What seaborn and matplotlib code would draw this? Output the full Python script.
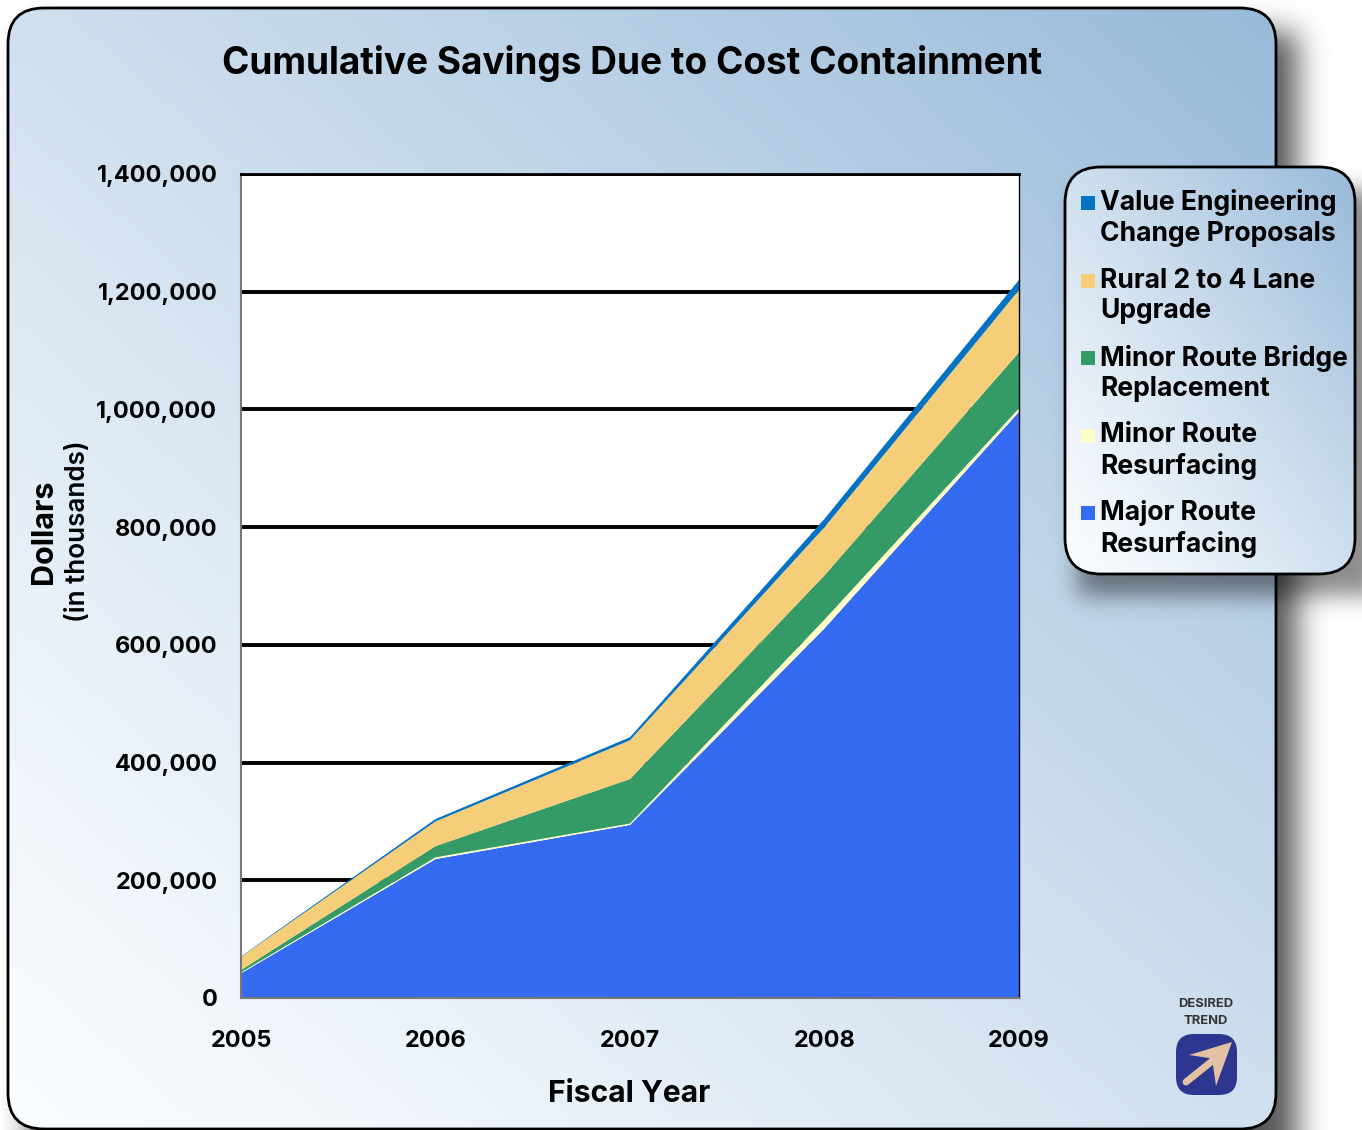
import numpy as np
import pandas as pd
import matplotlib
matplotlib.use("Agg")
import matplotlib.pyplot as plt
from matplotlib.patches import FancyBboxPatch, Rectangle, Polygon
import seaborn as sns
import seaborn.objects as so

W, H = 1362, 1130

years = [2005, 2006, 2007, 2008, 2009]
major_route = [42000, 236000, 294000, 628000, 996000]
minor_resurf = [1500, 3000, 2500, 15000, 6000]
minor_bridge = [4000, 19000, 75500, 75000, 95000]
rural_lane = [22500, 42000, 66000, 82000, 106000]
value_eng = [500, 4000, 5000, 14000, 17000]

series_names = ["Major Route\nResurfacing", "Minor Route\nResurfacing",
                "Minor Route Bridge\nReplacement", "Rural 2 to 4 Lane\nUpgrade",
                "Value Engineering\nChange Proposals"]
series_values = [major_route, minor_resurf, minor_bridge, rural_lane, value_eng]
series_colors = ["#346bf2", "#ffffc8", "#349b67", "#f6ce79", "#0573c3"]

y_ticks = [0, 200000, 400000, 600000, 800000, 1000000, 1200000, 1400000]
y_labels = ["0", "200,000", "400,000", "600,000", "800,000", "1,000,000", "1,200,000", "1,400,000"]

df = pd.DataFrame([
    {"year": y, "value": v, "series": name}
    for name, vals in zip(series_names, series_values)
    for y, v in zip(years, vals)
])

sns.set_theme(style="white")
plt.rcParams["font.family"] = ["Inter", "Lato", "DejaVu Sans"]
plt.rcParams["font.weight"] = "bold"


def px(size):
    return size * 72 / 100


def gradient(n_x, n_y):
    # white in the lower left corner, blue in the upper right
    xx, yy = np.meshgrid(np.linspace(0, 1, n_x), np.linspace(0, 1, n_y))
    t = (((xx + 1 - yy) / 2) ** 1.2)[..., None]
    low = np.array([0.98, 0.99, 1.0])
    high = np.array([0.60, 0.73, 0.85])
    return low + (high - low) * t


def blur(a, sigma):
    k = np.exp(-0.5 * (np.arange(-3 * sigma, 3 * sigma + 1) / sigma) ** 2)
    k = k / k.sum()
    a = np.apply_along_axis(lambda r: np.convolve(r, k, mode="same"), 0, a)
    return np.apply_along_axis(lambda r: np.convolve(r, k, mode="same"), 1, a)


def shadow(ax, x0, y0, x1, y1, sigma, strength):
    a = np.zeros((H + 200, W + 200))
    a[y0 + 100:y1 + 100, x0 + 100:x1 + 100] = 1
    a = blur(a, sigma)[100:-100, 100:-100]
    rgba = np.zeros((H, W, 4))
    rgba[..., 3] = a * strength
    ax.imshow(rgba, extent=(0, W, H, 0), aspect="auto", interpolation="bilinear")


def rounded_gradient(ax, x, y, w, h, r, lw):
    box = FancyBboxPatch((x + r, y + r), w - 2 * r, h - 2 * r,
                         boxstyle=f"round,pad={r},rounding_size={r}",
                         fc="none", ec="black", lw=lw, zorder=3)
    ax.add_patch(box)
    im = ax.imshow(gradient(64, 64), origin="upper", extent=(x, x + w, y + h, y),
                   aspect="auto", interpolation="bilinear", zorder=2)
    im.set_clip_path(box)


fig = plt.figure(figsize=(W / 100, H / 100), dpi=100, facecolor="white")

# background panel
bg = fig.add_axes([0, 0, 1, 1], zorder=0)
bg.axis("off")
shadow(bg, 30, 32, 1297, 1200, 15, 0.66)
rounded_gradient(bg, 8, 8, 1268, 1121, 36, 2.0)
bg.set_xlim(0, W)
bg.set_ylim(H, 0)

# main chart
ax = fig.add_axes([241 / W, 1 - 998 / H, 778 / W, 824 / H], zorder=1)
ax.set_facecolor("white")
ax.set_axisbelow(True)
(
    so.Plot(df, x="year", y="value", color="series")
    .add(so.Area(alpha=1, edgewidth=0.3), so.Stack(), legend=False)
    .scale(color=so.Nominal(series_colors, order=series_names))
    .on(ax)
    .plot()
)
ax.set_xlim(years[0], years[-1])
ax.set_ylim(0, 1400000)
ax.set_xticks(years)
ax.set_xticklabels([str(y) for y in years], fontsize=px(23.5), fontweight="bold", color="black")
ax.set_yticks(y_ticks)
ax.set_yticklabels(y_labels, fontsize=px(23.5), fontweight="bold", color="black")
ax.tick_params(axis="x", length=0, pad=23)
ax.tick_params(axis="y", length=0, pad=17)
ax.grid(axis="y", color="black", lw=2.8)
ax.grid(axis="x", visible=False)
ax.set_xlabel("")
ax.set_ylabel("")
for side, col, lw in [("top", "black", 2.0), ("left", "#777777", 1.5),
                      ("right", "black", 1.0), ("bottom", "#777777", 1.5)]:
    ax.spines[side].set_visible(True)
    ax.spines[side].set_color(col)
    ax.spines[side].set_linewidth(lw)

# overlay with text, legend and trend icon
top = fig.add_axes([0, 0, 1, 1], zorder=2)
top.axis("off")
top.patch.set_alpha(0)
shadow(top, 1078, 190, 1380, 596, 11, 0.45)
rounded_gradient(top, 1065, 167, 290, 407, 36, 2.0)

top.text(632, 64, "Cumulative Savings Due to Cost Containment", ha="center", va="center",
         fontsize=px(37), fontweight="bold", color="black")
top.text(629, 1094, "Fiscal Year", ha="center", va="center", fontsize=px(30), fontweight="bold", color="black")
top.text(44, 532, "Dollars", ha="center", va="center", rotation=90, fontsize=px(30.5), fontweight="bold", color="black")
top.text(78, 531, "(in thousands)", ha="center", va="center", rotation=90, fontsize=px(26), fontweight="semibold", color="black")

# legend, same order as the stack from top to bottom
for i, (name, col) in enumerate(zip(series_names[::-1], series_colors[::-1])):
    y0 = 203 + 77.5 * i
    top.add_patch(Rectangle((1081, y0 - 7), 14, 14, fc=col, ec="none", zorder=5))
    for j, line in enumerate(name.split("\n")):
        top.text(1100, y0 + 31 * j, line, ha="left", va="center", fontsize=px(26.5),
                 fontweight="bold", color="black", zorder=5)

top.text(1206, 1004, "DESIRED", ha="center", va="center", fontsize=px(13), fontweight="bold", color="#333333")
top.text(1206, 1021, "TREND", ha="center", va="center", fontsize=px(13), fontweight="bold", color="#333333")
top.add_patch(FancyBboxPatch((1190, 1048), 33, 33, boxstyle="round,pad=14,rounding_size=18",
                             fc="#2e3790", ec="none", zorder=4))
top.plot([1186, 1211], [1082, 1062], color="#e3c1a3", lw=px(7), solid_capstyle="round", zorder=5)
top.add_patch(Polygon([(1232, 1042), (1189, 1055), (1209, 1058), (1213, 1065), (1216, 1086)],
                      closed=True, fc="#e3c1a3", ec="none", zorder=5))
top.set_xlim(0, W)
top.set_ylim(H, 0)

fig.savefig("out.png", dpi=100)
